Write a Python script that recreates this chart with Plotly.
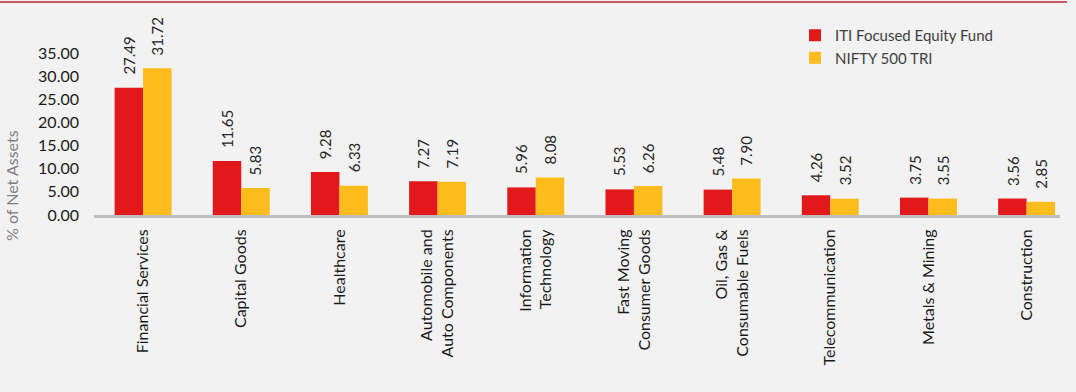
import plotly.graph_objects as go

categories = [
    "Financial Services", "Capital Goods", "Healthcare",
    "Automobile and<br>Auto Components", "Information<br>Technology",
    "Fast Moving<br>Consumer Goods", "Oil, Gas &<br>Consumable Fuels",
    "Telecommunication", "Metals & Mining", "Construction",
]
fund_values = [27.49, 11.65, 9.28, 7.27, 5.96, 5.53, 5.48, 4.26, 3.75, 3.56]
index_values = [31.72, 5.83, 6.33, 7.19, 8.08, 6.26, 7.90, 3.52, 3.55, 2.85]
series_names = ["ITI Focused Equity Fund", "NIFTY 500 TRI"]
y_ticks = [0, 5, 10, 15, 20, 25, 30, 35]

RED = "#e2191b"
YELLOW = "#fdbb1c"
FONT = "Lato"
BARGAP = 0.42

W, H = 1076, 392
ML, MR, MT, MB = 94, 16, 53, 177
PW, PH = W - ML - MR, H - MT - MB


def px_x(px):
    return (px - ML) / PW


def px_y(py):
    return (H - MB - py) / PH


fig = go.Figure()
fig.add_trace(go.Bar(x=categories, y=fund_values, name=series_names[0],
                     marker=dict(color=RED, line=dict(width=0))))
fig.add_trace(go.Bar(x=categories, y=index_values, name=series_names[1],
                     marker=dict(color=YELLOW, line=dict(width=0))))

half = (1 - BARGAP) / 4
for i in range(len(categories)):
    for vals, off in ((fund_values, -half), (index_values, half)):
        fig.add_annotation(x=i + off, y=vals[i], xref="x", yref="y",
                           text=f"{vals[i]:.2f}", textangle=-90, showarrow=False,
                           xanchor="center", yanchor="bottom", yshift=11,
                           font=dict(family=FONT, size=15, color="#262626"))

# y-axis title
fig.add_annotation(x=px_x(11), y=px_y(186), xref="paper", yref="paper",
                   text="% of Net Assets", textangle=-90, showarrow=False,
                   xanchor="center", yanchor="middle",
                   font=dict(family=FONT, size=16, color="#7f7f7f"))

# thin top rule
fig.add_shape(type="line", xref="paper", yref="paper",
              x0=px_x(0), x1=px_x(1067), y0=px_y(2), y1=px_y(2),
              line=dict(color="#b5282e", width=1.5))

fig.update_layout(
    width=W, height=H,
    margin=dict(l=ML, r=MR, t=MT, b=MB, pad=0, autoexpand=False),
    paper_bgcolor="#f2f2f2", plot_bgcolor="#f2f2f2",
    barmode="group", bargap=BARGAP, bargroupgap=0,
    showlegend=True,
    legend=dict(xref="container", yref="container", x=795 / W, y=1 - 19 / H,
                xanchor="left", yanchor="top",
                bgcolor="rgba(0,0,0,0)", font=dict(family=FONT, size=15, color="#404040"),
                tracegroupgap=0, itemwidth=30),
    font=dict(family=FONT),
)
fig.update_xaxes(range=[-0.5, 9.34], tickangle=-90, showline=True, linecolor="#bfbfbf",
                 linewidth=3, showgrid=False, ticks="", ticklabelstandoff=5, automargin=False,
                 tickfont=dict(family=FONT, size=16, color="#1a1a1a"), zeroline=False)
fig.update_yaxes(range=[0, 35], tickvals=y_ticks, tickformat=".2f", showgrid=False,
                 zeroline=False, showline=False, ticks="", ticklabelstandoff=14, automargin=False,
                 tickfont=dict(family=FONT, size=16, color="#1a1a1a"))

fig.write_html("out.html", config={"displayModeBar": False},
               post_script="document.body.style.margin='0';document.body.style.background='#f2f2f2';")
